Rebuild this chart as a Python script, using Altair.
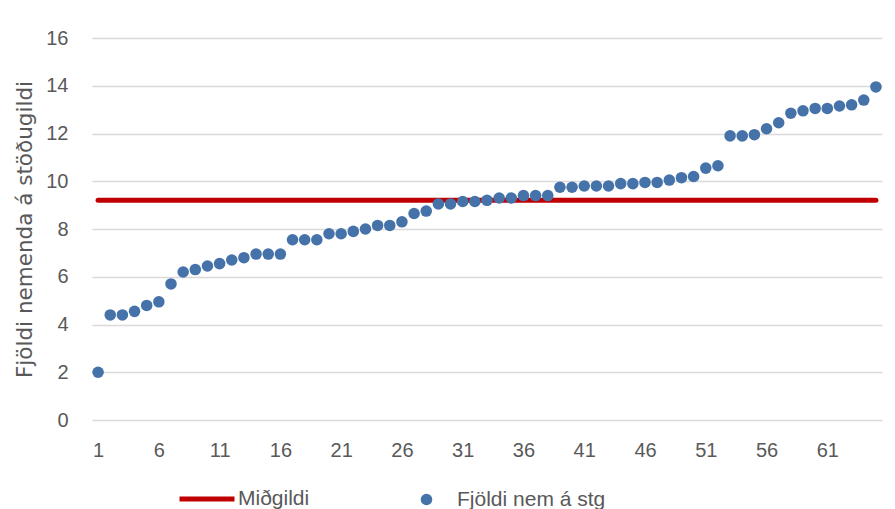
import altair as alt
import pandas as pd

# ---- data ----
idx = list(range(1, 66))
values = [2.0, 4.4, 4.4, 4.55, 4.8, 4.95, 5.7, 6.2, 6.3, 6.45,
          6.55, 6.7, 6.8, 6.95, 6.95, 6.95, 7.55, 7.55, 7.55, 7.8,
          7.8, 7.9, 8.0, 8.15, 8.15, 8.3, 8.65, 8.75, 9.05, 9.05,
          9.15, 9.15, 9.2, 9.3, 9.3, 9.4, 9.4, 9.4, 9.75, 9.75,
          9.8, 9.8, 9.8, 9.9, 9.9, 9.95, 9.95, 10.05, 10.15, 10.2,
          10.55, 10.65, 11.9, 11.9, 11.95, 12.2, 12.45, 12.85, 12.95, 13.05,
          13.05, 13.15, 13.2, 13.4, 13.95]
median_value = 9.2
x_ticks = [1, 6, 11, 16, 21, 26, 31, 36, 41, 46, 51, 56, 61]
y_ticks = [0, 2, 4, 6, 8, 10, 12, 14, 16]
series_points = "Fjöldi nem á stg"
series_median = "Miðgildi"
y_title = "Fjöldi nemenda á stöðugildi"

pts = pd.DataFrame({"nr": idx, "val": values, "series": series_points})
med = pd.DataFrame({"nr": [idx[0], idx[-1]], "val": [median_value, median_value],
                    "series": series_median})

TXT = "#595959"
FONT = "Liberation Sans"

x_enc = alt.X("nr:Q", scale=alt.Scale(domain=[0.5, 65.5], nice=False, zero=False),
              axis=alt.Axis(values=x_ticks, grid=False, domain=False, ticks=False, tickSize=0,
                            labelFont=FONT, labelFontSize=20, labelColor=TXT,
                            labelPadding=20, title=None, labelFlush=False))
y_enc = alt.Y("val:Q", scale=alt.Scale(domain=[0, 16], nice=False, zero=True),
              axis=alt.Axis(values=y_ticks, grid=True, gridColor="#d9d9d9", gridWidth=1.5,
                            domain=False, ticks=False, tickSize=0,
                            labelFont=FONT, labelFontSize=20, labelColor=TXT, labelPadding=24,
                            title=y_title, titleFont="DejaVu Sans", titleFontSize=21.5,
                            titleFontWeight="normal", titleColor=TXT,
                            titleX=-61, titleY=191, titleAngle=270,
                            titleAlign="center", titleBaseline="alphabetic"))

line = alt.Chart(med).mark_line(strokeWidth=5, strokeCap="round").encode(
    x=x_enc, y=y_enc,
    stroke=alt.Stroke("series:N",
                      scale=alt.Scale(domain=[series_median], range=["#c00000"]),
                      legend=alt.Legend(orient="none", legendX=85, legendY=431,
                                        direction="horizontal", title=None,
                                        symbolType="stroke", symbolSize=3025,
                                        symbolStrokeWidth=5, labelOffset=1,
                                        labelFont=FONT, labelFontSize=21, labelColor=TXT))
)

points = alt.Chart(pts).mark_circle(size=133, opacity=1).encode(
    x=x_enc, y=y_enc,
    fill=alt.Fill("series:N",
                  scale=alt.Scale(domain=[series_points], range=["#4572a8"]),
                  legend=alt.Legend(orient="none", legendX=324, legendY=451,
                                    direction="horizontal", title=None,
                                    symbolType="circle", symbolSize=133,
                                    symbolStrokeWidth=0, symbolOpacity=1, labelOffset=20,
                                    labelFont=FONT, labelFontSize=21, labelColor=TXT))
)

chart = alt.layer(line, points).properties(
    width=790, height=382,
    autosize=alt.AutoSizeParams(type="none"),
    padding={"left": 84, "top": 30, "right": 5, "bottom": 92},
    background="white",
).configure_view(stroke=None)

chart.save("out.html", embed_options={"renderer": "svg", "actions": False})
